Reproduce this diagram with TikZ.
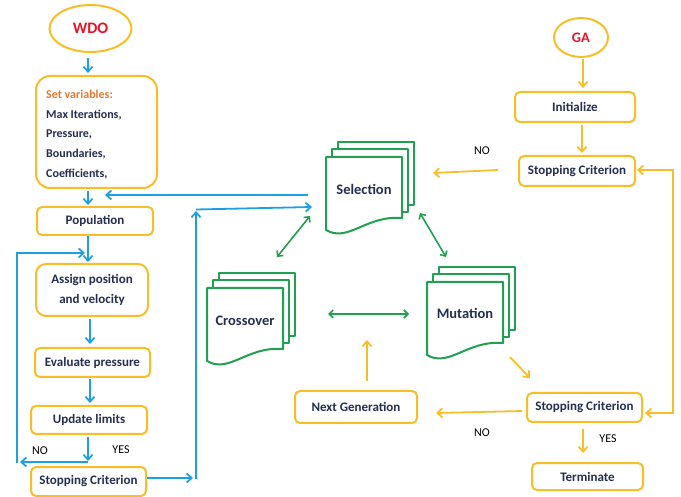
\documentclass[tikz,border=0pt]{standalone}
\usepackage{fontspec}
\setmainfont{Carlito}
\usetikzlibrary{arrows.meta,shapes.geometric}
\definecolor{gold}{RGB}{247,190,40}
\definecolor{skyb}{RGB}{28,160,226}
\definecolor{grn}{RGB}{32,160,80}
\definecolor{navy}{RGB}{36,46,80}
\definecolor{redt}{RGB}{228,20,40}
\definecolor{orng}{RGB}{225,120,50}
\newcommand\docstack[2]{%
 \begin{scope}[shift={(#1,#2)}]
 \draw[docline] (12,-8) -- (12,-15) -- (88,-15) -- (88,48) -- (82,48);
 \draw[docline] (6,0) -- (6,-8) -- (82,-8) -- (82,55) -- (76,55);
 \draw[docline] (0,0) -- (76,0) -- (76,61) .. controls (40,58) and (22,86) .. (0,73) -- cycle;
 \end{scope}}
\tikzset{
 box/.style={draw=gold, line width=2pt, rounded corners=5pt, fill=white, font=\fontsize{13}{15}\selectfont\bfseries, text=navy, inner sep=0pt},
 ell/.style={draw=gold, ellipse, line width=2pt, font=\bfseries, text=redt, inner sep=0pt},
 barr/.style={skyb, line width=1.8pt, -{Straight Barb[length=5pt,width=9pt]}},
 oarr/.style={gold, line width=1.8pt, -{Straight Barb[length=5pt,width=9pt]}},
 oboth/.style={gold, line width=1.8pt, {Straight Barb[length=5pt,width=9pt]}-{Straight Barb[length=5pt,width=9pt]}},
 garr/.style={grn, line width=1.6pt, {Straight Barb[length=4pt,width=8pt]}-{Straight Barb[length=4pt,width=8pt]}},
 docline/.style={draw=grn, line width=2pt, line join=round},
 doctext/.style={font=\fontsize{14.5}{16}\selectfont\bfseries, text=navy},
 lbl/.style={font=\fontsize{12}{14}\selectfont, text=black},
}
\begin{document}
\begin{tikzpicture}[x=1pt,y=-1pt]
\useasboundingbox (0,0) rectangle (681,497);
% ---------- WDO side ----------
\node[ell, minimum width=82pt, minimum height=47pt, font=\fontsize{16}{18}\selectfont\bfseries] (wdo) at (90.5,28.5) {WDO};
\node[box, rounded corners=14pt, minimum width=121pt, minimum height=112pt] (setv) at (96.5,132) {};
\node[anchor=west, align=left, inner sep=0pt, text=navy, font=\fontsize{12}{19.75}\selectfont\bfseries] (setvt) at (46,134.5)
 {{\color{orng}Set variables:}\\Max Iterations,\\Pressure,\\Boundaries,\\Coefficients,};
\node[box, minimum width=116pt, minimum height=28pt] (pop) at (95,221) {Population};
\node[box, rounded corners=10pt, minimum width=112pt, minimum height=52pt, align=center, font=\fontsize{13}{20}\selectfont\bfseries] (assign) at (92,290) {Assign position\\and velocity};
\node[box, minimum width=115pt, minimum height=29pt] (evalp) at (92.5,362.5) {Evaluate pressure};
\node[box, minimum width=116pt, minimum height=28pt] (upd) at (89,420) {Update limits};
\node[box, minimum width=115pt, minimum height=29pt] (stopw) at (88.5,481.5) {Stopping Criterion};
\node[lbl] (nol) at (40,451) {NO};
\node[lbl] (yesl) at (121,450) {YES};
% ---------- document stacks ----------
\docstack{326}{157}
\node[doctext] (sel) at (364,189) {Selection};
\docstack{207}{288}
\node[doctext] (cross) at (245,321) {Crossover};
\docstack{427}{282}
\node[doctext] (mut) at (465,313) {Mutation};
% ---------- GA side ----------
\node[ell, minimum width=54pt, minimum height=39pt, font=\fontsize{14.5}{16}\selectfont\bfseries] (ga) at (581,37.5) {GA};
\node[box, minimum width=120pt, minimum height=30pt] (init) at (575,107) {Initialize};
\node[box, minimum width=116pt, minimum height=30pt] (stopg) at (577,171) {Stopping Criterion};
\node[box, minimum width=115pt, minimum height=29pt] (stopb) at (584.5,407.5) {Stopping Criterion};
\node[box, minimum width=122pt, minimum height=32pt] (nextg) at (356,407) {Next Generation};
\node[box, minimum width=111pt, minimum height=27pt] (term) at (587.5,476.5) {Terminate};
\node[lbl] (nog) at (482,151) {NO};
\node[lbl] (nob) at (482,433) {NO};
\node[lbl] (yesb) at (608,439) {YES};
% ---------- coordinates ----------
\coordinate (b1s) at (88,58);   \coordinate (b1e) at (88,73);
\coordinate (b2s) at (88,191);  \coordinate (b2e) at (88,205);
\coordinate (b3s) at (308,195); \coordinate (b3e) at (105,195);
\coordinate (b4s) at (88,236);  \coordinate (b4e) at (88,262);
\coordinate (b5a) at (88,462);  \coordinate (b5b) at (20,462);
\coordinate (b5c) at (17,463);  \coordinate (b5d) at (17,253); \coordinate (b5e) at (85,253);
\coordinate (b6s) at (90,319);  \coordinate (b6e) at (90,344);
\coordinate (b7s) at (90,379);  \coordinate (b7e) at (90,403);
\coordinate (b8s) at (88,437);  \coordinate (b8e) at (88,461);
\coordinate (b9a) at (147,478); \coordinate (b9b) at (193,478);
\coordinate (b9c) at (196,479); \coordinate (b9d) at (196,211);
\coordinate (b9e) at (196,209.5); \coordinate (b9f) at (312,207);
\coordinate (o1s) at (583,59);  \coordinate (o1e) at (583,88);
\coordinate (o2s) at (582,125); \coordinate (o2e) at (582,153);
\coordinate (o3s) at (498,170); \coordinate (o3e) at (433,173);
\coordinate (o4a) at (645,413); \coordinate (o4b) at (673,413);
\coordinate (o4c) at (673,170); \coordinate (o4d) at (637,170);
\coordinate (o5s) at (510,357); \coordinate (o5e) at (530,378);
\coordinate (o6s) at (522,411); \coordinate (o6e) at (436,413);
\coordinate (o7s) at (367,381); \coordinate (o7e) at (367,340);
\coordinate (o8s) at (583,429); \coordinate (o8e) at (583,453);
\coordinate (g1s) at (310,216); \coordinate (g1e) at (277,257);
\coordinate (g2s) at (420,213); \coordinate (g2e) at (446,257);
\coordinate (g3s) at (328,314); \coordinate (g3e) at (409,314);
% ---------- blue connectors ----------
\draw[barr] (b1s) -- (b1e);
\draw[barr] (b2s) -- (b2e);
\draw[barr] (b3s) -- (b3e);
\draw[barr] (b4s) -- (b4e);
\draw[barr] (b5a) -- (b5b);
\draw[barr] (b5c) -- (b5d) -- (b5e);
\draw[barr] (b6s) -- (b6e);
\draw[barr] (b7s) -- (b7e);
\draw[barr] (b8s) -- (b8e);
\draw[barr] (b9a) -- (b9b);
\draw[barr] (b9c) -- (b9d);
\draw[barr] (b9e) -- (b9f);
% ---------- orange connectors ----------
\draw[oarr] (o1s) -- (o1e);
\draw[oarr] (o2s) -- (o2e);
\draw[oarr] (o3s) -- (o3e);
\draw[oboth] (o4a) -- (o4b) -- (o4c) -- (o4d);
\draw[oarr] (o5s) -- (o5e);
\draw[oarr] (o6s) -- (o6e);
\draw[oarr] (o7s) -- (o7e);
\draw[oarr] (o8s) -- (o8e);
% ---------- green connectors ----------
\draw[garr] (g1s) -- (g1e);
\draw[garr] (g2s) -- (g2e);
\draw[garr] (g3s) -- (g3e);
\end{tikzpicture}
\end{document}
